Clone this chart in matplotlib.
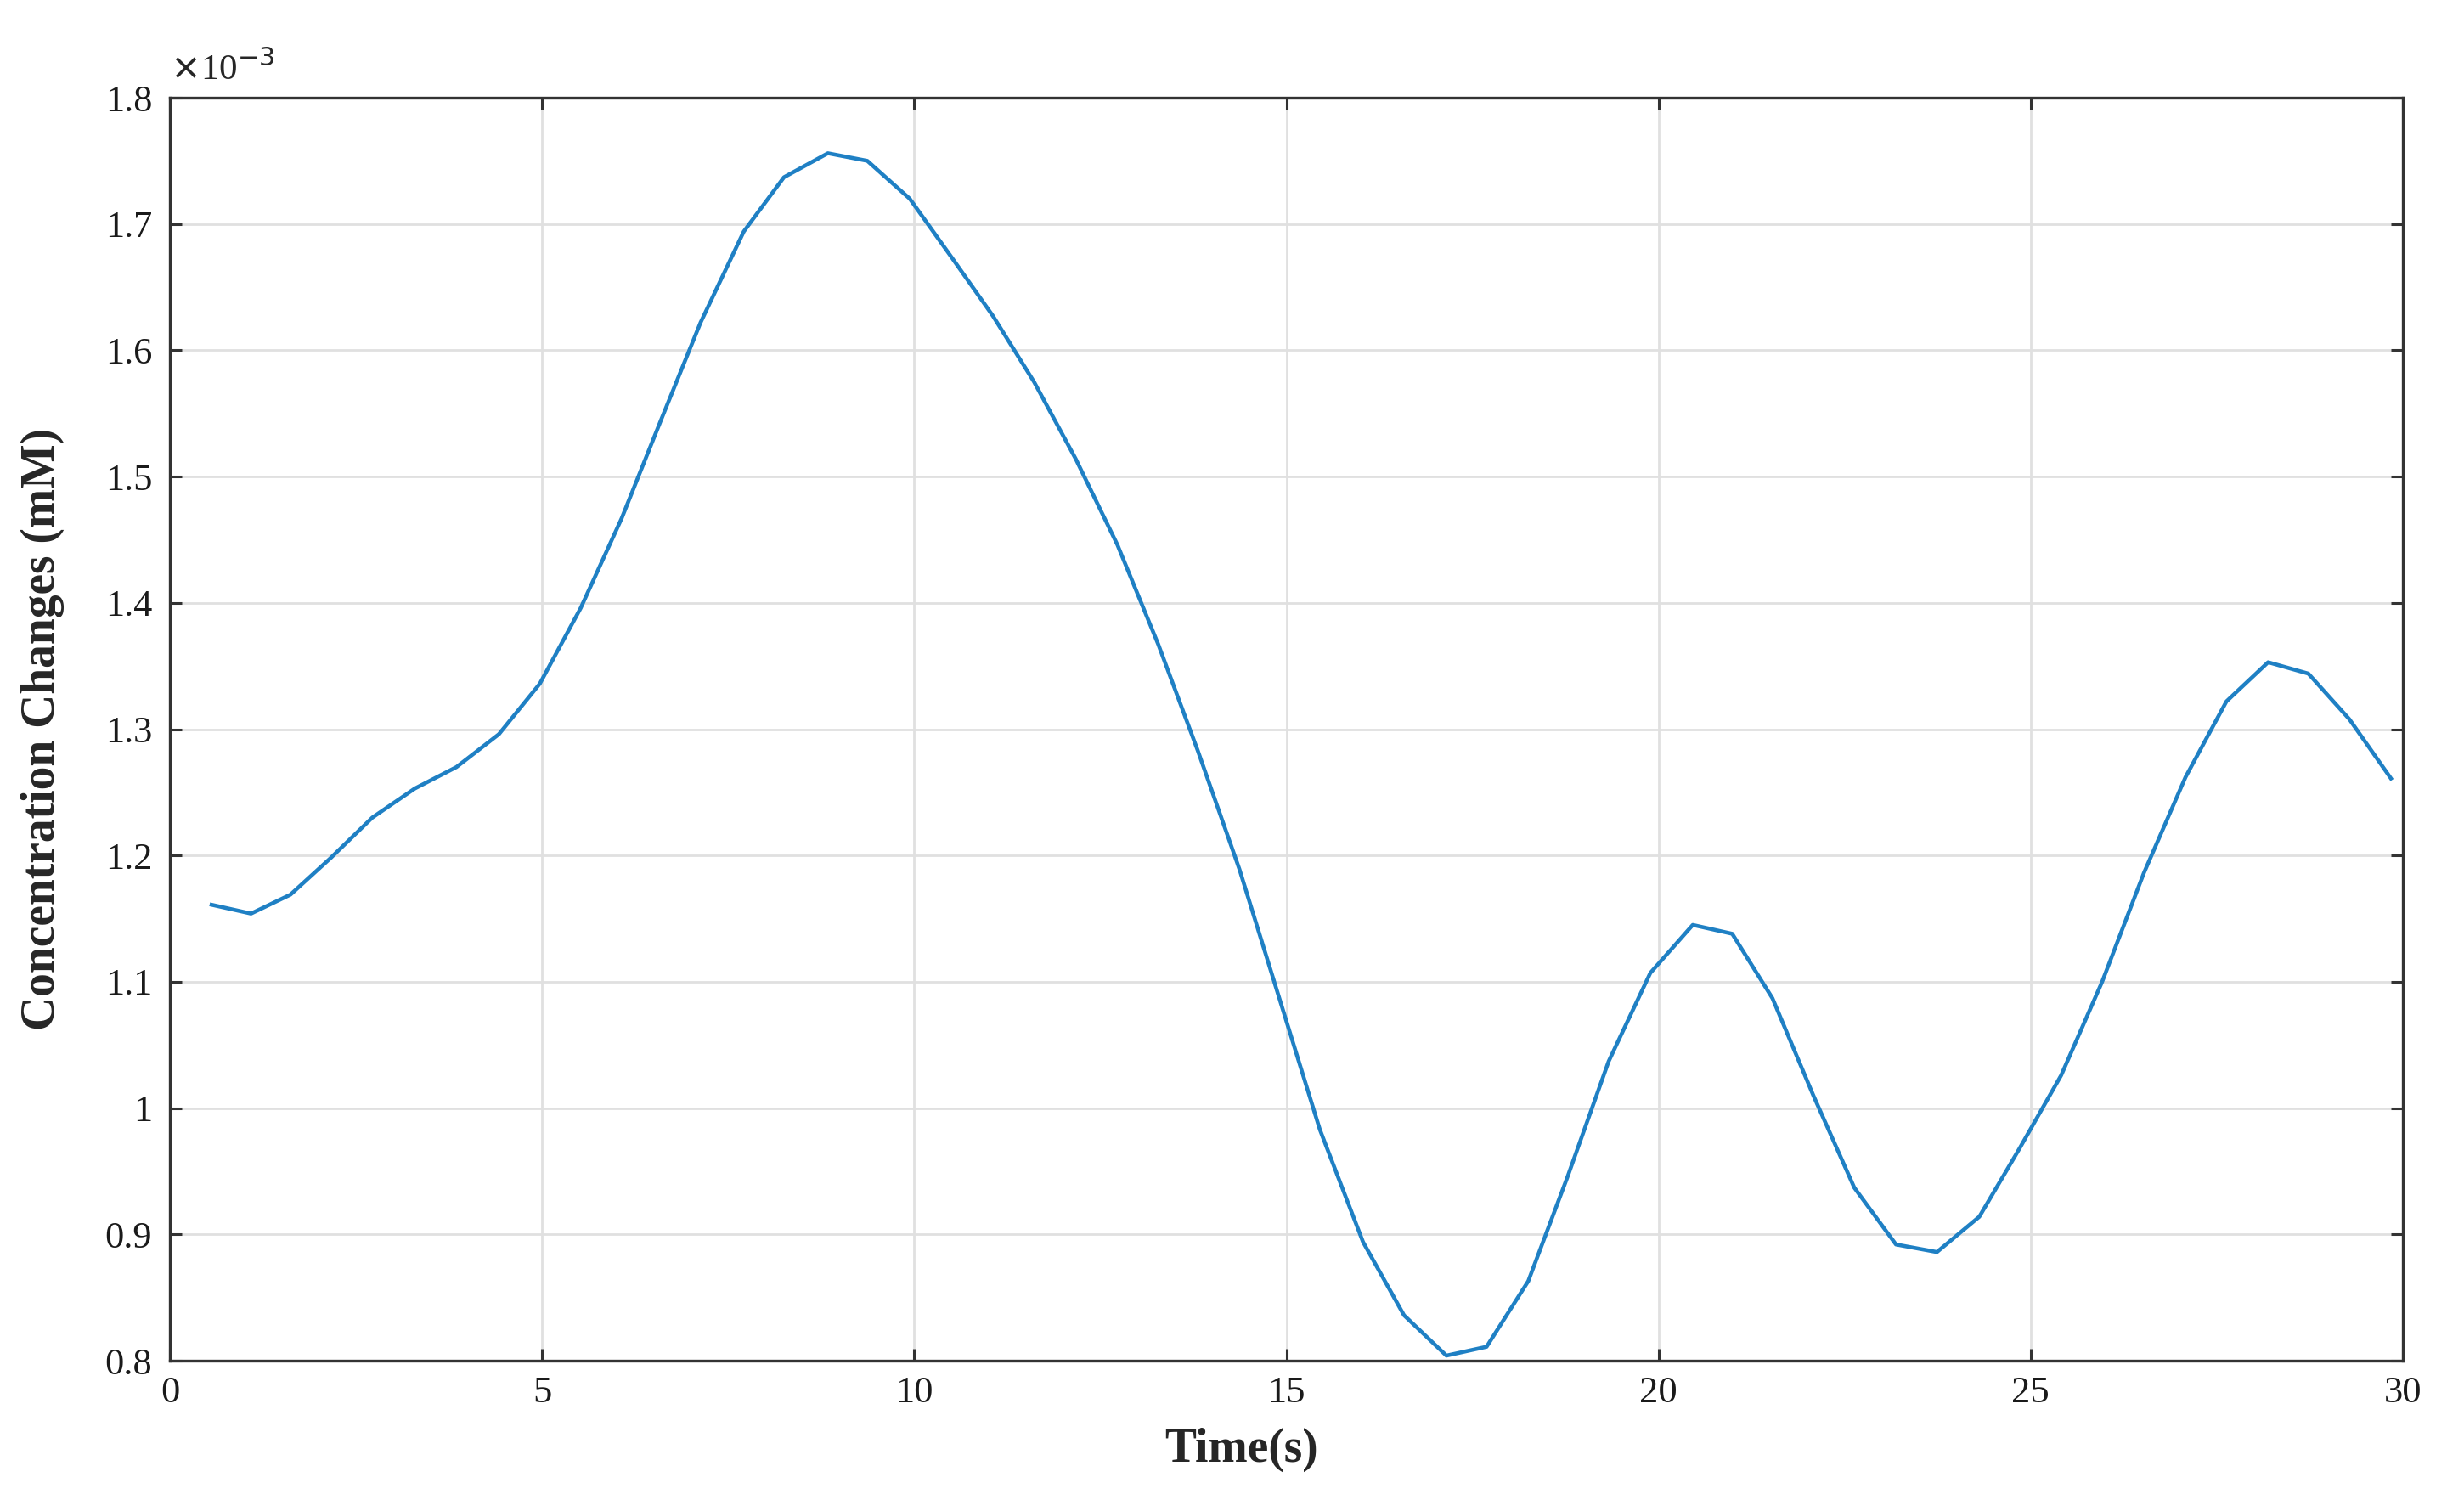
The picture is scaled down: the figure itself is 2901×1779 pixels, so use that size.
import matplotlib
matplotlib.use("Agg")
import matplotlib.pyplot as plt
from matplotlib.ticker import FuncFormatter

# time (s) and concentration change (mM)
time_s = [0.56, 1.09, 1.62, 2.16, 2.72, 3.29, 3.85, 4.42, 4.97, 5.52,
          6.07, 6.60, 7.13, 7.71, 8.25, 8.84, 9.37, 9.94, 10.51, 11.06,
          11.61, 12.17, 12.73, 13.28, 13.81, 14.37, 14.90, 15.45, 16.03, 16.58,
          17.15, 17.69, 18.25, 18.78, 19.33, 19.89, 20.46, 20.99, 21.53, 22.08,
          22.63, 23.19, 23.74, 24.31, 24.85, 25.41, 25.96, 26.52, 27.08, 27.63,
          28.19, 28.73, 29.28, 29.84]
conc_mM = [1.161e-3, 1.154e-3, 1.169e-3, 1.198e-3, 1.230e-3, 1.253e-3, 1.270e-3, 1.296e-3, 1.336e-3, 1.396e-3,
           1.467e-3, 1.545e-3, 1.622e-3, 1.694e-3, 1.737e-3, 1.756e-3, 1.750e-3, 1.720e-3, 1.673e-3, 1.627e-3,
           1.575e-3, 1.514e-3, 1.446e-3, 1.367e-3, 1.283e-3, 1.189e-3, 1.088e-3, 0.983e-3, 0.894e-3, 0.836e-3,
           0.804e-3, 0.811e-3, 0.863e-3, 0.946e-3, 1.037e-3, 1.107e-3, 1.145e-3, 1.138e-3, 1.087e-3, 1.010e-3,
           0.937e-3, 0.892e-3, 0.886e-3, 0.914e-3, 0.968e-3, 1.026e-3, 1.100e-3, 1.186e-3, 1.262e-3, 1.322e-3,
           1.353e-3, 1.344e-3, 1.308e-3, 1.261e-3]

x_ticks = [0, 5, 10, 15, 20, 25, 30]
y_ticks = [0.8e-3, 0.9e-3, 1.0e-3, 1.1e-3, 1.2e-3, 1.3e-3, 1.4e-3, 1.5e-3, 1.6e-3, 1.7e-3, 1.8e-3]

plt.rcParams['font.family'] = ['Liberation Serif', 'DejaVu Serif']

fig = plt.figure(figsize=(29.01, 17.79), dpi=100)
ax = fig.add_axes([200 / 2901, 1 - 1602 / 1779, 2629 / 2901, 1487 / 1779])

ax.plot(time_s, conc_mM, color='#1f80c4', linewidth=3.3)

ax.set_xlim(0, 30)
ax.set_ylim(0.8e-3, 1.8e-3)
ax.set_xticks(x_ticks)
ax.set_yticks(y_ticks)
ax.yaxis.set_major_formatter(FuncFormatter(lambda v, p: f"{v * 1e3:g}"))

ax.grid(True, color='#e0e0e0', linewidth=2.0)
ax.set_axisbelow(True)
for s in ax.spines.values():
    s.set_color('#333333')
    s.set_linewidth(2.4)
ax.tick_params(direction='in', length=10, width=2.2, color='#333333',
               top=True, right=True, labelsize=32, labelcolor='#1a1a1a')
ax.tick_params(axis='x', pad=13)
ax.tick_params(axis='y', pad=15)

ax.text(0.0, 1.008, r"$\times$10$^{-3}$", transform=ax.transAxes,
        fontsize=31, color='#262626', ha='left', va='bottom')

ax.set_xlabel("Time(s)", fontsize=40, fontweight='bold', color='#262626')
ax.set_ylabel("Concentration Changes (mM)", fontsize=40, fontweight='bold', color='#262626')
ax.xaxis.set_label_coords(0.48, -0.053)
ax.yaxis.set_label_coords(-0.047, 0.5)

fig.savefig("out.png", dpi=100, facecolor='white')
